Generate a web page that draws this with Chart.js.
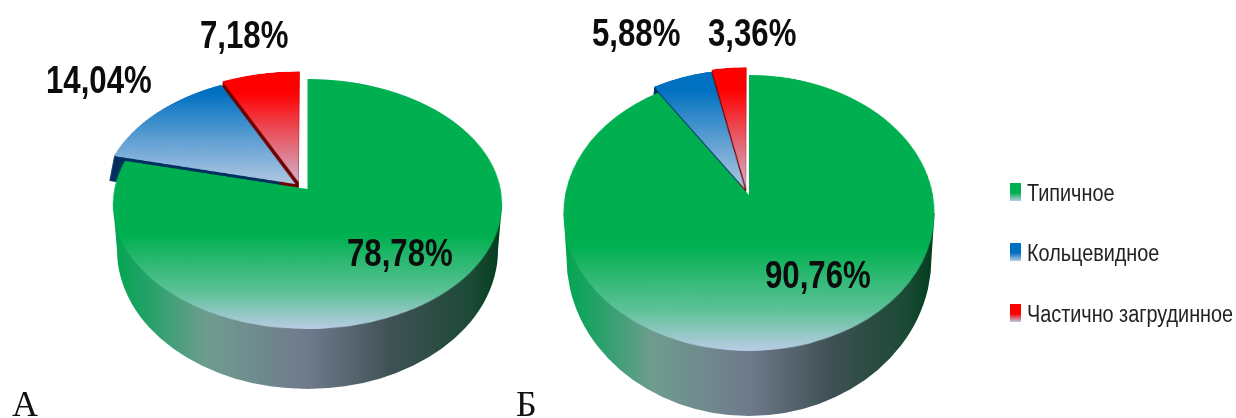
<!DOCTYPE html>
<html lang="ru">
<head>
<meta charset="utf-8">
<title>Типы зоба</title>
<script src="https://cdn.jsdelivr.net/npm/chart.js@4"></script>
<style>
  html, body { margin: 0; background: #fff; }
  #page { position: relative; width: 1236px; height: 418px; overflow: hidden; }
  #page canvas { position: absolute; left: 0; top: 0; transform-origin: 0 0; }
  .val { position: absolute; font: bold 39px "Liberation Sans", sans-serif; color: #0c0c0c; white-space: nowrap; line-height: 40px; transform: scaleX(0.8); transform-origin: 0 0; }
  .tag { position: absolute; font: 36px "Liberation Serif", serif; color: #111; line-height: 40px; }
  .leg { position: absolute; left: 1027px; font: 23px "Liberation Sans", sans-serif; color: #222; white-space: nowrap; line-height: 26px; transform: scaleX(0.862); transform-origin: 0 0; }
  .swatch { position: absolute; left: 1010px; width: 11px; height: 18px; }
</style>
</head>
<body>
<div id="page">
  <canvas id="wallA" width="1236" height="418"></canvas>
  <canvas id="wallB" width="1236" height="418"></canvas>
  <canvas id="pieA" width="480" height="480"></canvas>
  <canvas id="pieB" width="480" height="480"></canvas>
</div>
<script>
const categories = ["Типичное", "Кольцевидное", "Частично загрудинное"];
const valuesA = [78.78, 14.04, 7.18];
const valuesB = [90.76, 5.88, 3.36];
const tags = ["А", "Б"];

const topColors = ["#00b050", "#0070c0", "#ff0000"];
const sideColors = [null, "#00305f", "#700000"];
const paleBlue = "#b8cce4";
const FLAT_R = 200;
const FLAT_C = 240;

// ax/ay: pie centre on screen, rx/ry: projected radii, p: perspective strength
const layoutA = {
  ax: 307.5, ay: 189, rx: 193.1, ry: 123.2, p: -0.12,
  shift: [[0, 0], [-12, -5], [-9, -7]], grow: [1, 1, 1.02], depth: 42,
  wall: { cy: 204, rx: 194.5, ry: 125, cy2: 250, rx2: 190.5, ry2: 139 }
};
const layoutB = {
  ax: 749, ay: 195, rx: 183.9, ry: 135.65, p: -0.13,
  shift: [[0, 0], [-4, -6], [-3, -7]], grow: [1, 1.01, 1.02], depth: 30,
  wall: { cy: 213, rx: 185.5, ry: 138, cy2: 258, rx2: 182.5, ry2: 158 }
};

// css matrix that tilts the flat pie canvas back into perspective
function tiltMatrix(g) {
  const k = 1 - g.p * FLAT_C / FLAT_R;
  const m41 = g.ax * k - g.rx * FLAT_C / FLAT_R;
  const m42 = g.ay * k - g.ry * FLAT_C / FLAT_R;
  return "matrix3d(" + [
    g.rx / FLAT_R, 0, 0, 0,
    g.ax * g.p / FLAT_R, (g.ay * g.p + g.ry) / FLAT_R, 0, g.p / FLAT_R,
    0, 0, 1, 0,
    m41, m42, 0, k
  ].join(",") + ")";
}

function sliceGradient(ctx, i) {
  const top = FLAT_C - FLAT_R;
  if (i === 0) {
    const g = ctx.createLinearGradient(0, top, 0, FLAT_C + FLAT_R);
    g.addColorStop(0, topColors[0]);
    g.addColorStop(0.68, topColors[0]);
    g.addColorStop(0.88, "#5cc196");
    g.addColorStop(1, paleBlue);
    return g;
  }
  const g = ctx.createLinearGradient(0, top, 0, FLAT_C);
  g.addColorStop(0, topColors[i]);
  g.addColorStop(0.14, topColors[i]);
  g.addColorStop(1, i === 2 ? "#cdbcd6" : paleBlue);
  return g;
}

// moves the pulled-out slices and draws their cut sides under the top faces
const explodePlugin = {
  id: "explode",
  afterDatasetsUpdate(chart, args, opts) {
    chart.getDatasetMeta(0).data.forEach((arc, i) => {
      arc.x += opts.shift[i][0] * FLAT_R / opts.rx;
      arc.y += opts.shift[i][1] * FLAT_R / opts.ry;
      arc.outerRadius *= opts.grow[i];
    });
  },
  beforeDatasetsDraw(chart, args, opts) {
    const ctx = chart.ctx;
    chart.getDatasetMeta(0).data.forEach((arc, i) => {
      if (!sideColors[i]) return;
      ctx.fillStyle = sideColors[i];
      for (let d = 0; d <= opts.depth; d++) {
        ctx.beginPath();
        ctx.moveTo(arc.x, arc.y + d);
        ctx.arc(arc.x, arc.y + d, arc.outerRadius, arc.startAngle, arc.endAngle);
        ctx.closePath();
        ctx.fill();
      }
    });
  }
};

function drawWall(id, g) {
  const ctx = document.getElementById(id).getContext("2d");
  const w = g.wall;
  const grad = ctx.createLinearGradient(g.ax - w.rx, 0, g.ax + w.rx, 0);
  grad.addColorStop(0, "#00a650");
  grad.addColorStop(0.08, "#1fa265");
  grad.addColorStop(0.24, "#6f9c8f");
  grad.addColorStop(0.5, "#6f7a8c");
  grad.addColorStop(0.72, "#3f5054");
  grad.addColorStop(0.92, "#1c4a36");
  grad.addColorStop(1, "#003d1c");
  ctx.fillStyle = grad;
  ctx.beginPath();
  ctx.moveTo(g.ax - w.rx, w.cy);
  ctx.lineTo(g.ax - w.rx2, w.cy2);
  ctx.ellipse(g.ax, w.cy2, w.rx2, w.ry2, 0, Math.PI, 0, true);
  ctx.lineTo(g.ax + w.rx, w.cy);
  ctx.closePath();
  ctx.fill();
}

function makePie(id, values, g) {
  const canvas = document.getElementById(id);
  canvas.style.transform = tiltMatrix(g);
  const ctx = canvas.getContext("2d");
  return new Chart(canvas, {
    type: "pie",
    data: {
      labels: categories,
      datasets: [{
        data: values,
        backgroundColor: values.map((v, i) => sliceGradient(ctx, i)),
        borderWidth: 0,
        radius: FLAT_R
      }]
    },
    options: {
      responsive: false,
      animation: false,
      events: [],
      plugins: {
        legend: { display: false },
        tooltip: { enabled: false },
        explode: { shift: g.shift, grow: g.grow, depth: g.depth, rx: g.rx, ry: g.ry }
      }
    },
    plugins: [explodePlugin]
  });
}

function addText(cls, text, x, y) {
  const el = document.createElement("div");
  el.className = cls;
  el.textContent = text;
  if (x !== null) el.style.left = x + "px";
  el.style.top = y + "px";
  document.getElementById("page").appendChild(el);
}

const pct = v => v.toFixed(2).replace(".", ",") + "%";

drawWall("wallA", layoutA);
drawWall("wallB", layoutB);
makePie("pieA", valuesA, layoutA);
makePie("pieB", valuesB, layoutB);

// value labels
addText("val", pct(valuesA[0]), 347, 233);
addText("val", pct(valuesA[1]), 46, 60);
addText("val", pct(valuesA[2]), 200, 15);
addText("val", pct(valuesB[0]), 765, 255);
addText("val", pct(valuesB[1]), 592, 13);
addText("val", pct(valuesB[2]), 708, 13);

addText("tag", tags[0], 12, 384);
addText("tag", tags[1], 516, 384);

// legend
const legendTops = [183, 243, 304];
categories.forEach((name, i) => {
  const sw = document.createElement("div");
  sw.className = "swatch";
  sw.style.top = legendTops[i] + "px";
  sw.style.background = "linear-gradient(" + topColors[i] + " 55%, " + paleBlue + ")";
  document.getElementById("page").appendChild(sw);
  addText("leg", name, null, legendTops[i] - 3);
});
</script>
</body>
</html>
